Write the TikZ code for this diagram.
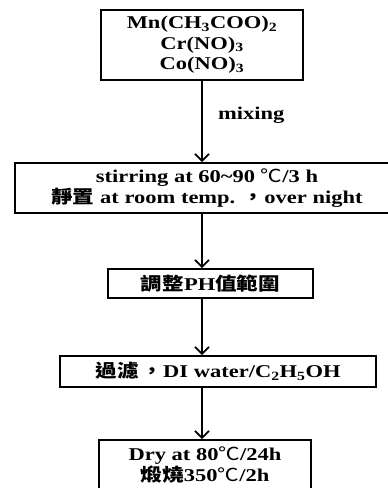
\documentclass[tikz,border=0pt]{standalone}
\usepackage{fontspec}
\setmainfont{Liberation Serif}[FakeStretch=1.25]
\newfontfamily\cjk{Noto Sans CJK TC}[FakeStretch=1.2]
\usetikzlibrary{positioning,calc,arrows.meta}
\newcommand{\degc}{{\cjk\mdseries ℃}}
\newcommand{\zh}[1]{{\cjk #1}}

\begin{document}
\begin{tikzpicture}[x=1pt, y=-1pt, ->, >={Straight Barb[length=7pt, width=14pt]}, every edge/.append style={line width=1.7pt}, stepbox/.style = {rectangle, draw, line width=1.8pt, align=center, inner sep=0pt, font=\fontsize{18}{20.5}\selectfont\bfseries}]

\useasboundingbox (0,0) rectangle (388,488);
\clip (0,0) rectangle (388,488);

\node[stepbox, minimum width=202pt, minimum height=70pt] (mix) at (202,45) {Mn(CH\textsubscript{3}COO)\textsubscript{2}\\Cr(NO)\textsubscript{3}\\Co(NO)\textsubscript{3}};
\node[stepbox, minimum width=384pt, minimum height=50pt] (stir) at (207,188) {stirring at 60\textasciitilde90 \degc/3 h\\\zh{靜置} at room temp. \zh{，}over night};
\node[stepbox, minimum width=205pt, minimum height=29pt] (ph) at (210.5,283.5) {\zh{調整}PH\zh{值範圍}};
\node[stepbox, minimum width=316pt, minimum height=31pt] (wash) at (218,371.5) {\zh{過濾}\,\zh{，}DI water/C\textsubscript{2}H\textsubscript{5}OH};
\node[stepbox, minimum width=212pt, minimum height=50pt] (dry) at (205,465) {Dry at 80\degc/24h\\\zh{煅燒}350\degc/2h};

\path
 (mix) edge node[right=12pt, font=\fontsize{18}{20.5}\selectfont\bfseries, pos=0.42] {mixing} (mix |- stir.north)
 (stir.south -| mix) edge (ph.north -| mix)
 (ph.south -| mix) edge (wash.north -| mix)
 (wash.south -| mix) edge (dry.north -| mix);
\end{tikzpicture}
\end{document}
